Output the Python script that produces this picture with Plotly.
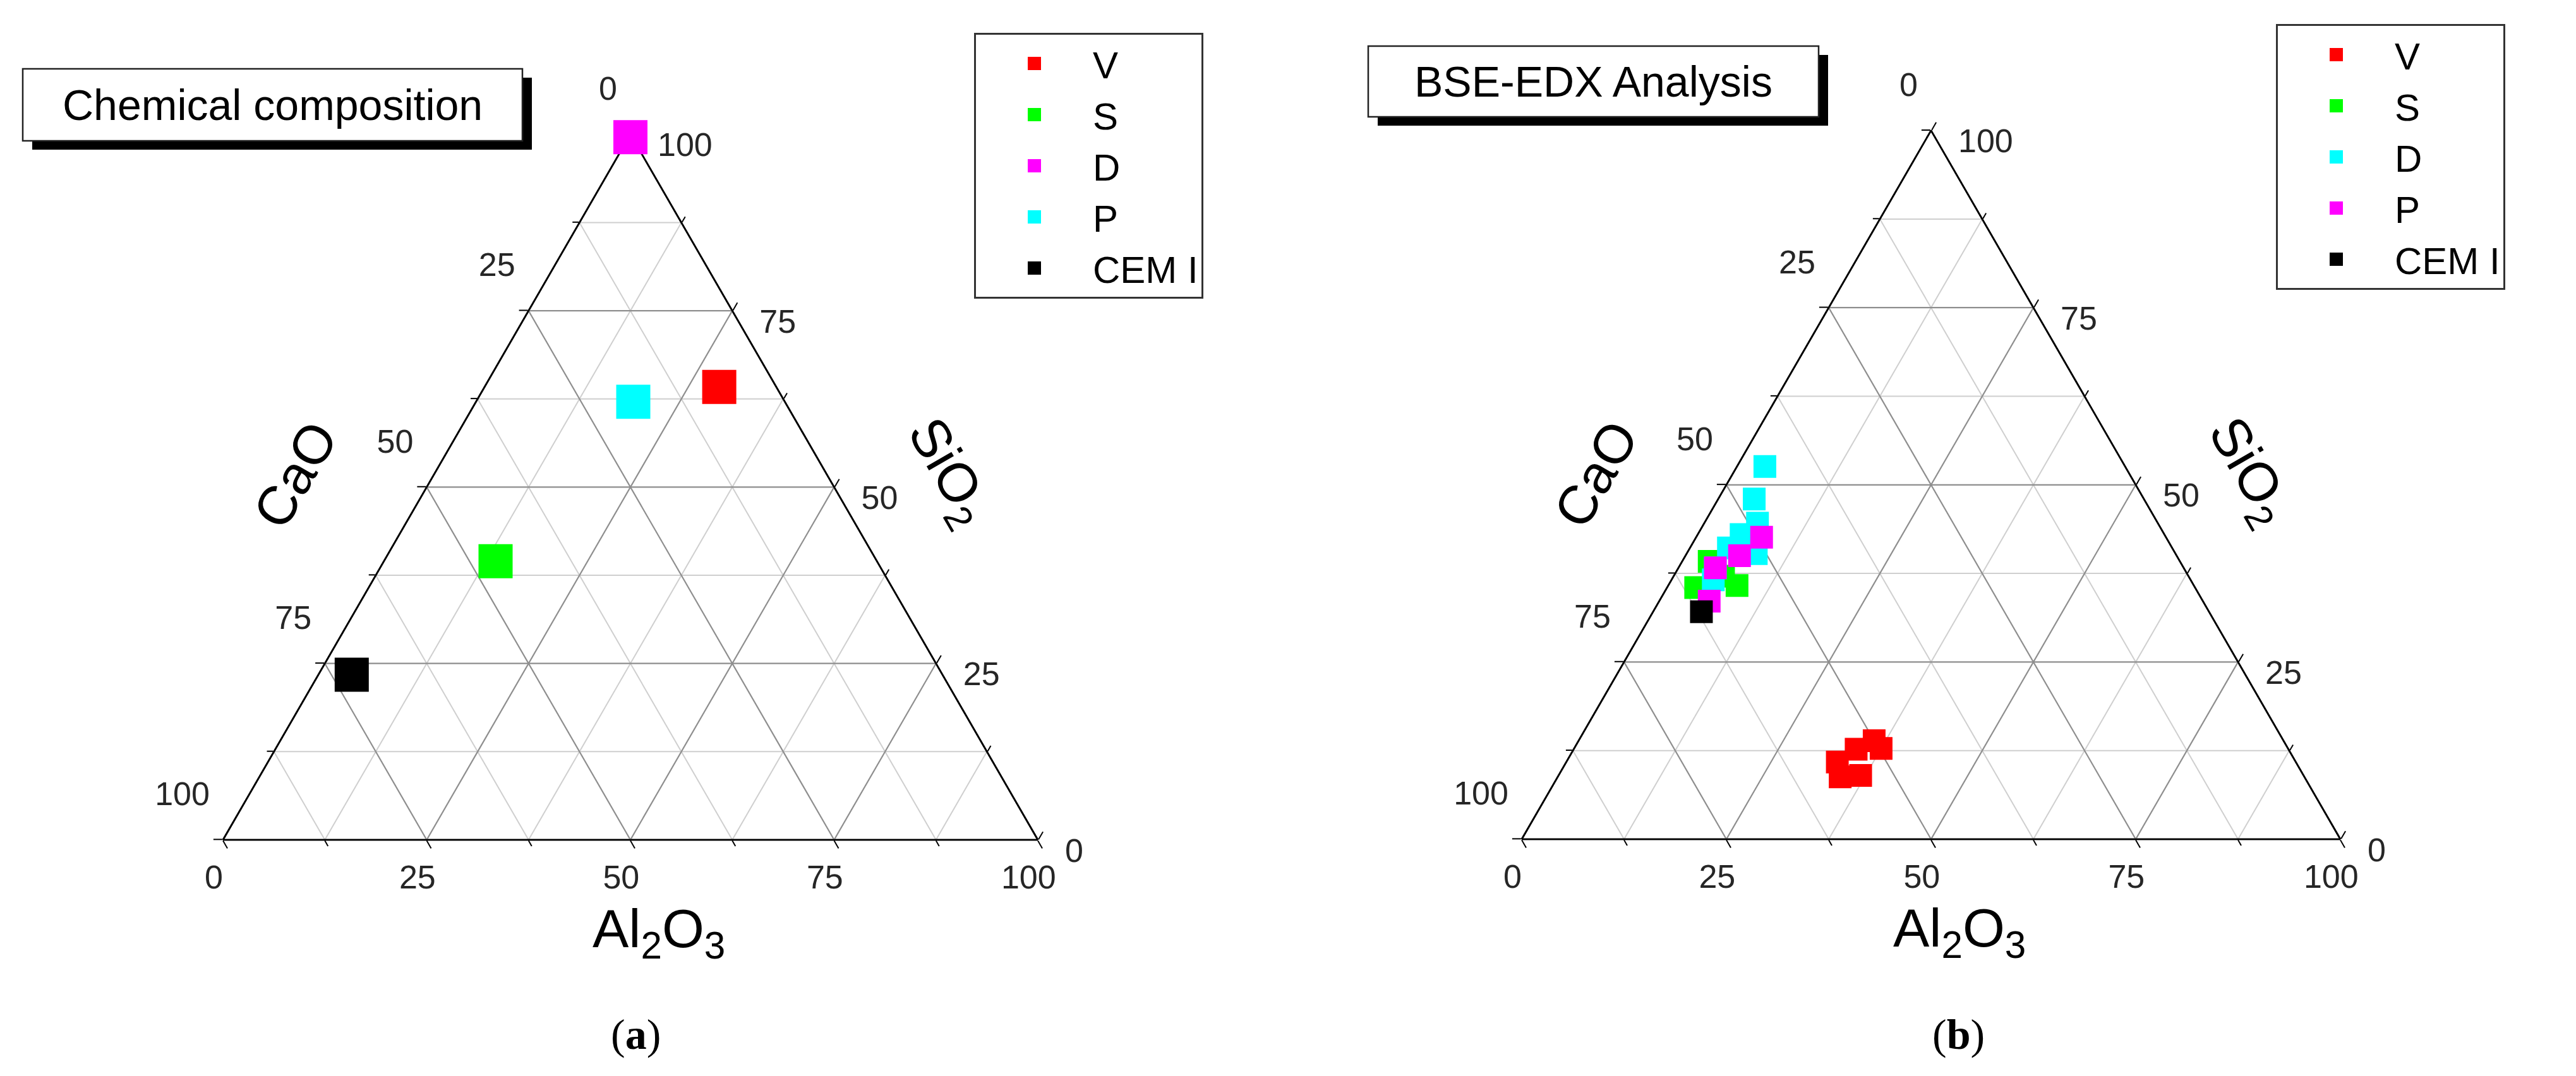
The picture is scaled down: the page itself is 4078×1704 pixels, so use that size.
import math
import plotly.graph_objects as go

W, H = 4078, 1704
FONT = "Liberation Sans, Arial, sans-serif"
SERIF = "Liberation Serif, Times New Roman, serif"
NB = "\u00a0"

# ---------------- data (values in %) ----------------
# (a) Chemical composition: one point per material
chem_names = ["V", "S", "D", "P", "CEM I"]
chem_colors = ["#ff0000", "#00ff00", "#ff00ff", "#00ffff", "#000000"]
chem_sio2 = [64.2, 39.5, 99.6, 62.1, 23.4]
chem_cao = [7.0, 46.8, 0.2, 18.6, 72.5]
chem_al2o3 = [28.8, 13.7, 0.2, 19.3, 4.1]

# (b) BSE-EDX analysis: several spots per material
edx_names = ["V", "S", "D", "P", "CEM I"]
edx_colors = ["#ff0000", "#00ff00", "#00ffff", "#ff00ff", "#000000"]
edx_v_sio2 = [13.9, 12.8, 12.7, 10.9, 8.8, 9.0]
edx_v_cao = [50.0, 49.7, 52.8, 56.0, 56.7, 54.1]
edx_v_al2o3 = [36.1, 37.5, 34.5, 33.1, 34.5, 36.9]
edx_s_sio2 = [39.2, 35.5, 35.8, 37.1]
edx_s_cao = [57.5, 61.0, 55.8, 56.8]
edx_s_al2o3 = [3.3, 3.5, 8.4, 6.1]
edx_d_sio2 = [52.6, 48.0, 44.6, 43.0, 41.1, 38.3, 40.3, 36.6]
edx_d_cao = [44.0, 47.6, 48.9, 51.7, 54.2, 57.2, 51.2, 58.3]
edx_d_al2o3 = [3.4, 4.4, 6.5, 5.3, 4.7, 4.5, 8.5, 5.1]
edx_p_sio2 = [42.6, 40.0, 38.3, 33.6]
edx_p_cao = [49.4, 53.4, 57.2, 60.3]
edx_p_al2o3 = [8.0, 6.6, 4.5, 6.1]
edx_cem_sio2 = [32.1]
edx_cem_cao = [62.0]
edx_cem_al2o3 = [5.9]

edx_sio2 = [edx_v_sio2, edx_s_sio2, edx_d_sio2, edx_p_sio2, edx_cem_sio2]
edx_cao = [edx_v_cao, edx_s_cao, edx_d_cao, edx_p_cao, edx_cem_cao]
edx_al2o3 = [edx_v_al2o3, edx_s_al2o3, edx_d_al2o3, edx_p_al2o3, edx_cem_al2o3]

major_vals = [0, 25, 50, 75, 100]
major_text = ["100", "75", "50", "25", "0"]
minor_vals = [12.5, 37.5, 62.5, 87.5]

# ---------------- layout geometry (pixels) ----------------
panels = [
    dict(cx=998, base=1330, side=1290, title="Chemical composition",
         box=(36, 109, 827, 223), legend_xy=(1542, 52), legend_w=232,
         caption="(<b>a</b>)", cap_x=1006),
    dict(cx=3057, base=1329, side=1296, title="BSE-EDX Analysis",
         box=(2166, 73, 2879, 185), legend_xy=(3603, 38), legend_w=248,
         caption="(<b>b</b>)", cap_x=3100),
]


def px(x):
    return x / W


def py(y):
    return 1 - y / H


# tick-label text per ternary side (padding nudges labels like the reference)
label_left = [t + "<br> <br> " for t in major_text]
label_bottom = [t + NB * 3 for t in major_text]
label_right = [" <br>" + NB * 2 + t for t in major_text]


def axis_main(text):
    return dict(
        min=0, tickmode="array", tickvals=major_vals, ticktext=text,
        showgrid=True, gridcolor="#8e8e8e", gridwidth=2.2,
        showline=True, linecolor="#000000", linewidth=2.6,
        ticks="outside", ticklen=14, tickwidth=2, tickcolor="#000000",
        tickfont=dict(size=52, color="#262626", family=FONT),
        layer="below traces", title=dict(text=""),
    )


def axis_minor():
    return dict(
        min=0, tickmode="array", tickvals=minor_vals, showticklabels=False,
        showgrid=True, gridcolor="#cfcfcf", gridwidth=2,
        showline=True, linecolor="#000000", linewidth=2.6,
        ticks="outside", ticklen=10, tickwidth=2, tickcolor="#000000",
        layer="below traces", title=dict(text=""),
    )


fig = go.Figure()
layout_extra = {}
shapes = []
annotations = []

for k, p in enumerate(panels):
    hgt = p["side"] * math.sqrt(3) / 2
    dom = dict(x=[px(p["cx"] - p["side"] / 2), px(p["cx"] + p["side"] / 2)],
               y=[py(p["base"]), py(p["base"] - hgt)])
    minor_id = "ternary" if k == 0 else f"ternary{2 * k + 1}"
    main_id = f"ternary{2 * k + 2}"
    layout_extra[minor_id] = dict(domain=dom, sum=100, bgcolor="white",
                                  aaxis=axis_minor(), baxis=axis_minor(), caxis=axis_minor())
    layout_extra[main_id] = dict(domain=dom, sum=100, bgcolor="rgba(0,0,0,0)",
                                 aaxis=axis_main(label_left), baxis=axis_main(label_bottom),
                                 caxis=axis_main(label_right))
    # empty trace so the minor-grid layer is created
    fig.add_trace(go.Scatterternary(a=[], b=[], c=[], subplot=minor_id, showlegend=False,
                                    hoverinfo="skip"))

    # axis titles
    cx, base = p["cx"], p["base"]
    annotations += [
        dict(text="CaO", x=px(cx - 531), y=py(base - 578), textangle=-60),
        dict(text="SiO<sub>2</sub>", x=px(cx + 502), y=py(base - 582), textangle=60),
        dict(text="Al<sub>2</sub>O<sub>3</sub>", x=px(cx + 45), y=py(base + 146), textangle=0),
    ]
    # title box with drop shadow
    x0, y0, x1, y1 = p["box"]
    shapes.append(dict(type="rect", xref="paper", yref="paper", x0=px(x0 + 15), x1=px(x1 + 15),
                       y0=py(y0 + 14), y1=py(y1 + 14), fillcolor="#000000",
                       line=dict(width=0), layer="above"))
    shapes.append(dict(type="rect", xref="paper", yref="paper", x0=px(x0), x1=px(x1),
                       y0=py(y0), y1=py(y1), fillcolor="#ffffff",
                       line=dict(width=2.5, color="#222222"), layer="above"))
    annotations.append(dict(text=p["title"], x=px((x0 + x1) / 2), y=py((y0 + y1) / 2),
                            font=dict(size=68, color="#000000", family=FONT)))
    annotations.append(dict(text=p["caption"], x=px(p["cap_x"]), y=py(1638),
                            font=dict(size=68, color="#000000", family=SERIF)))

for a in annotations:
    a.setdefault("xref", "paper")
    a.setdefault("yref", "paper")
    a.setdefault("showarrow", False)
    a.setdefault("xanchor", "center")
    a.setdefault("yanchor", "middle")
    a.setdefault("font", dict(size=86, color="#000000", family=FONT))

# (a) traces
for i, name in enumerate(chem_names):
    fig.add_trace(go.Scatterternary(
        a=[chem_sio2[i]], b=[chem_cao[i]], c=[chem_al2o3[i]], mode="markers", name=name,
        subplot="ternary2", legend="legend", cliponaxis=False,
        marker=dict(symbol="square", size=49, color=chem_colors[i],
                    line=dict(width=5, color=chem_colors[i])),
    ))

# (b) traces
for i, name in enumerate(edx_names):
    fig.add_trace(go.Scatterternary(
        a=edx_sio2[i], b=edx_cao[i], c=edx_al2o3[i], mode="markers", name=name,
        subplot="ternary4", legend="legend2", cliponaxis=False,
        marker=dict(symbol="square", size=31, color=edx_colors[i],
                    line=dict(width=5, color=edx_colors[i])),
    ))


def legend_cfg(p):
    lx, ly = p["legend_xy"]
    return dict(x=px(lx), y=py(ly), xanchor="left", yanchor="top", bgcolor="#ffffff",
                bordercolor="#333333", borderwidth=3, itemwidth=175, tracegroupgap=0,
                entrywidth=p["legend_w"], entrywidthmode="pixels",
                font=dict(size=60, color="#000000", family=FONT), traceorder="normal")


fig.update_layout(
    width=W, height=H, margin=dict(l=0, r=0, t=0, b=0, pad=0),
    paper_bgcolor="#ffffff", hovermode=False,
    legend=legend_cfg(panels[0]), legend2=legend_cfg(panels[1]),
    shapes=shapes, annotations=annotations,
    **layout_extra,
)

fig.write_html("out.html", config={"displayModeBar": False, "staticPlot": True},
               post_script="document.body.style.margin='0';document.body.style.overflow='hidden';")
